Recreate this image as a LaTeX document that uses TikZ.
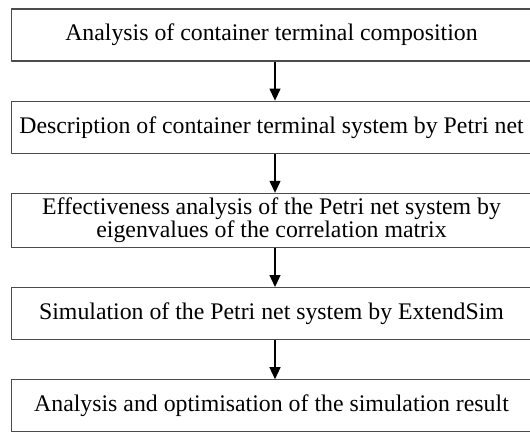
\documentclass[tikz,border=0pt]{standalone}
\usepackage{fontspec}
\setmainfont{Liberation Serif}
\usetikzlibrary{positioning,arrows.meta}
\begin{document}
\begin{tikzpicture}[x=1pt, y=1pt, font=\fontsize{23.8}{19.5}\selectfont, line join=round, >={Triangle[length=12pt,width=11pt]},
	stepbox/.style={draw=black!70, line width=1.2pt, minimum width=520pt, minimum height=52pt, inner sep=1pt, align=center},
	node distance=39pt]
	\useasboundingbox (0,0) rectangle (530,-432);
	\node[stepbox] (comp) at (271.5,-35) {Analysis of container terminal composition};
	\node[stepbox, below=of comp] (desc) {Description of container terminal system by Petri net};
	\node[stepbox, below=of desc, minimum height=54pt] (eff) {Effectiveness analysis of the Petri net system by\\eigenvalues of the correlation matrix};
	\node[stepbox, below=of eff] (sim) {Simulation of the Petri net system by ExtendSim};
	\node[stepbox, below=of sim] (opt) {Analysis and optimisation of the simulation result};
	\foreach \a/\b in {comp/desc, desc/eff, eff/sim, sim/opt}
		\draw[->, line width=1.3pt] ([xshift=3.5pt]\a.south) -- ([xshift=3.5pt]\b.north);
\end{tikzpicture}
\end{document}
